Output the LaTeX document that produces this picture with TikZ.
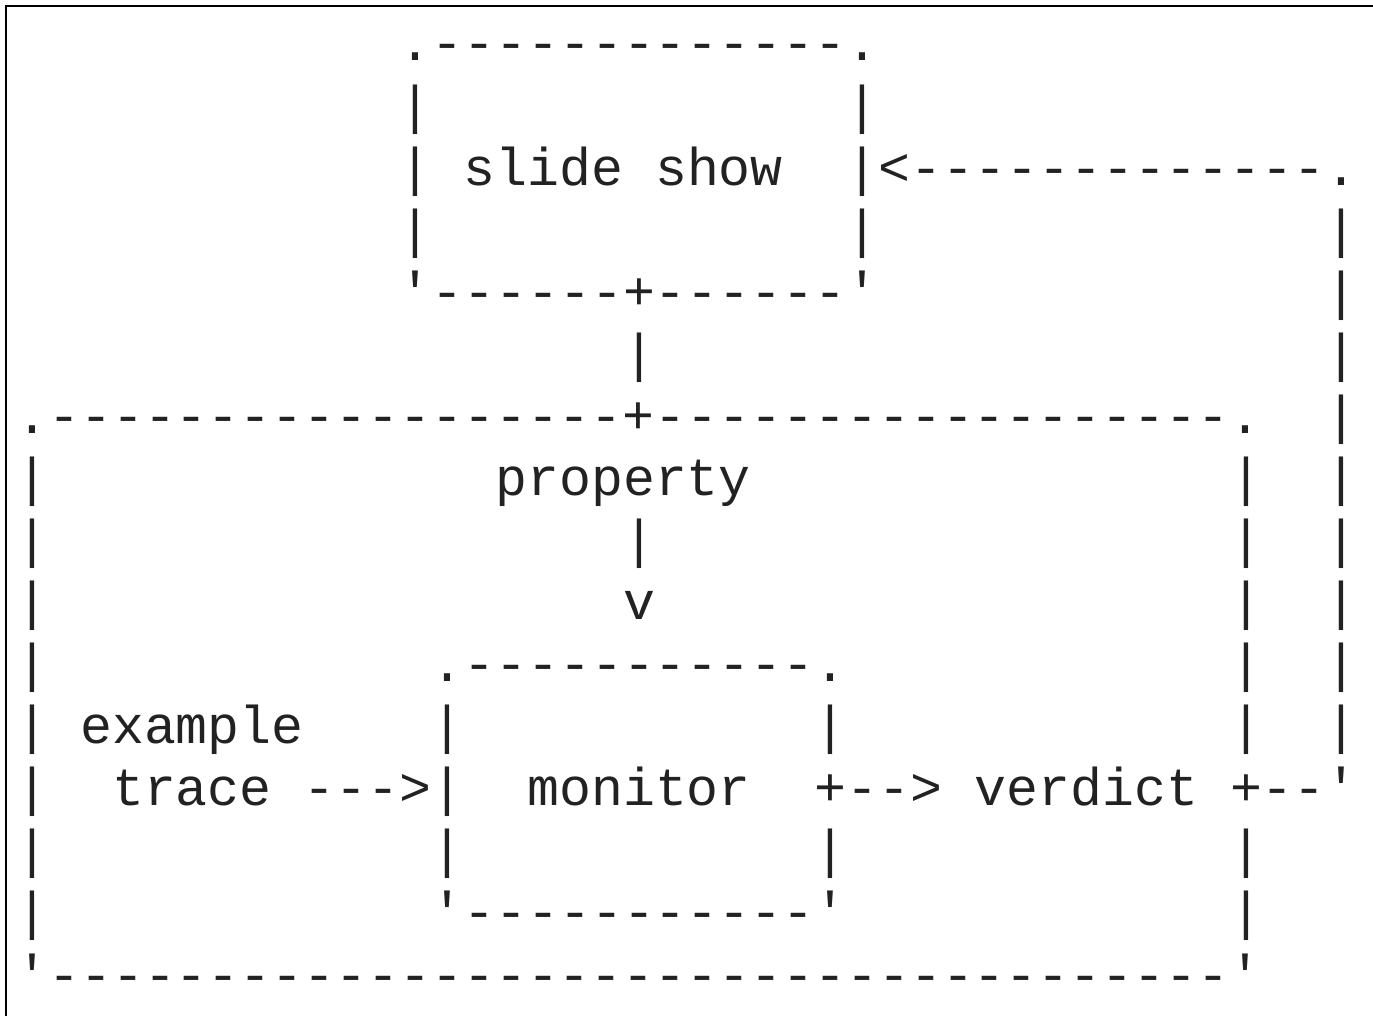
\documentclass[tikz,border=0pt]{standalone}
\usepackage{fontspec}
\setmonofont{Liberation Mono}
\definecolor{ink}{HTML}{222222}
\tikzset{
  asc/.style={anchor=base west, inner sep=0pt, outer sep=0pt, text=ink,
    font=\ttfamily\fontsize{53.2}{62}\selectfont},
  frameline/.style={draw=black, line width=2pt}
}
\newcommand{\asc}[4]{\node[asc] (#1) at ({16.33+31.94*#2},{-(61+62.07*#3)}) {#4};}
\begin{document}
\begin{tikzpicture}[x=1pt,y=1pt]
\useasboundingbox (0,0) rectangle (1373,-1016);
\coordinate (fbl) at (6,-1020);
\coordinate (ftl) at (6,-6);
\coordinate (ftr) at (1380,-6);
\draw[frameline] (fbl) -- (ftl) -- (ftr);
% row 0
\asc{ssTop}{12}{0}{.-------------.}
% row 1
\asc{ssL1}{12}{1}{|}
\asc{ssR1}{26}{1}{|}
% row 2
\asc{ssL2}{12}{2}{|}
\asc{slide}{14}{2}{slide}
\asc{show}{20}{2}{show}
\asc{ssR2}{26}{2}{|<-------------.}
% row 3
\asc{ssL3}{12}{3}{|}
\asc{ssR3}{26}{3}{|}
\asc{fb3}{41}{3}{|}
% row 4
\asc{ssBot}{12}{4}{'------+------'}
\asc{fb4}{41}{4}{|}
% row 5
\asc{link5}{19}{5}{|}
\asc{fb5}{41}{5}{|}
% row 6
\asc{bigTop}{0}{6}{.------------------+------------------.}
\asc{fb6}{41}{6}{|}
% row 7
\asc{bL7}{0}{7}{|}
\asc{property}{15}{7}{property}
\asc{bR7}{38}{7}{|}
\asc{fb7}{41}{7}{|}
% row 8
\asc{bL8}{0}{8}{|}
\asc{pv8}{19}{8}{|}
\asc{bR8}{38}{8}{|}
\asc{fb8}{41}{8}{|}
% row 9
\asc{bL9}{0}{9}{|}
\asc{pv9}{19}{9}{v}
\asc{bR9}{38}{9}{|}
\asc{fb9}{41}{9}{|}
% row 10
\asc{bL10}{0}{10}{|}
\asc{monTop}{13}{10}{.-----------.}
\asc{bR10}{38}{10}{|}
\asc{fb10}{41}{10}{|}
% row 11
\asc{bL11}{0}{11}{|}
\asc{example}{2}{11}{example}
\asc{mL11}{13}{11}{|}
\asc{mR11}{25}{11}{|}
\asc{bR11}{38}{11}{|}
\asc{fb11}{41}{11}{|}
% row 12
\asc{bL12}{0}{12}{|}
\asc{trace}{3}{12}{trace}
\asc{arr12}{9}{12}{--->|}
\asc{monitor}{16}{12}{monitor}
\asc{out12}{25}{12}{+-->}
\asc{verdict}{30}{12}{verdict}
\asc{back12}{38}{12}{+--'}
% row 13
\asc{bL13}{0}{13}{|}
\asc{mL13}{13}{13}{|}
\asc{mR13}{25}{13}{|}
\asc{bR13}{38}{13}{|}
% row 14
\asc{bL14}{0}{14}{|}
\asc{monBot}{13}{14}{'-----------'}
\asc{bR14}{38}{14}{|}
% row 15
\asc{bigBot}{0}{15}{'-------------------------------------'}
\end{tikzpicture}
\end{document}
